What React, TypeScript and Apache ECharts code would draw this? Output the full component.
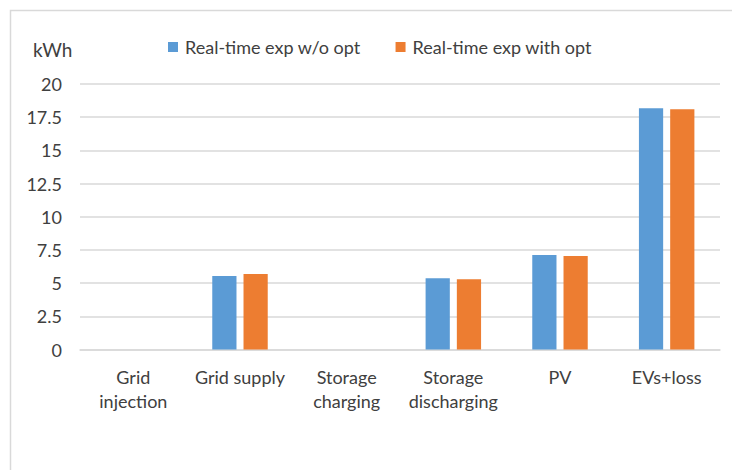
import React, { useEffect, useRef } from "react";
import * as echarts from "echarts";

const categories = ["Grid\ninjection", "Grid supply", "Storage\ncharging", "Storage\ndischarging", "PV", "EVs+loss"];
const seriesNames = ["Real-time exp w/o opt", "Real-time exp with opt"];
const withoutOpt = [0, 5.54, 0, 5.36, 7.12, 18.17];
const withOpt = [0, 5.69, 0, 5.29, 7.05, 18.1];
const yTicks = { min: 0, max: 20, interval: 2.5 };
const unitLabel = "kWh";

const FONT = "Lato, 'Open Sans', sans-serif";

export default function App() {
  const ref = useRef<HTMLDivElement>(null);
  useEffect(() => {
    const chart = echarts.init(ref.current!, null, { renderer: "svg" });
    chart.setOption({
      animation: false,
      textStyle: { fontFamily: FONT },
      graphic: [
        {
          type: "rect",
          shape: { x: 10.5, y: 10.5, width: 900, height: 700 },
          style: { fill: "none", stroke: "#d9d9d9", lineWidth: 1.5 },
          silent: true,
        },
        {
          type: "text",
          x: 33,
          y: 49,
          style: { text: unitLabel, fill: "#404040", font: `19px ${FONT}`, textVerticalAlign: "middle" },
        },
      ],
      legend: {
        top: 33,
        left: 163,
        itemWidth: 10,
        itemHeight: 10,
        itemGap: 35,
        icon: "rect",
        textStyle: { fontSize: 18, color: "#404040", fontFamily: FONT, padding: [0, 0, 0, 2] },
        data: seriesNames,
      },
      grid: { left: 80, right: 12, top: 84, bottom: 120.5 },
      xAxis: {
        type: "category",
        data: categories,
        axisLine: { show: true, lineStyle: { color: "#d9d9d9", width: 1.5 } },
        axisTick: { show: false },
        axisLabel: { color: "#404040", fontSize: 18, lineHeight: 24, margin: 15, interval: 0, fontFamily: FONT },
      },
      yAxis: {
        type: "value",
        min: yTicks.min,
        max: yTicks.max,
        interval: yTicks.interval,
        axisLine: { show: false },
        axisTick: { show: false },
        splitLine: { lineStyle: { color: "#d9d9d9", width: 1.5 } },
        axisLabel: { color: "#404040", fontSize: 18, margin: 18, fontFamily: FONT },
      },
      series: [
        {
          name: seriesNames[0],
          type: "bar",
          data: withoutOpt,
          itemStyle: { color: "#5B9BD5" },
          barGap: "29%",
          barCategoryGap: "48%",
        },
        {
          name: seriesNames[1],
          type: "bar",
          data: withOpt,
          itemStyle: { color: "#ED7D31" },
          barGap: "29%",
          barCategoryGap: "48%",
        },
      ],
    });
    return () => chart.dispose();
  }, []);
  return <div ref={ref} style={{ position: "fixed", left: 0, top: 0, width: 732, height: 470, background: "#fff" }} />;
}
